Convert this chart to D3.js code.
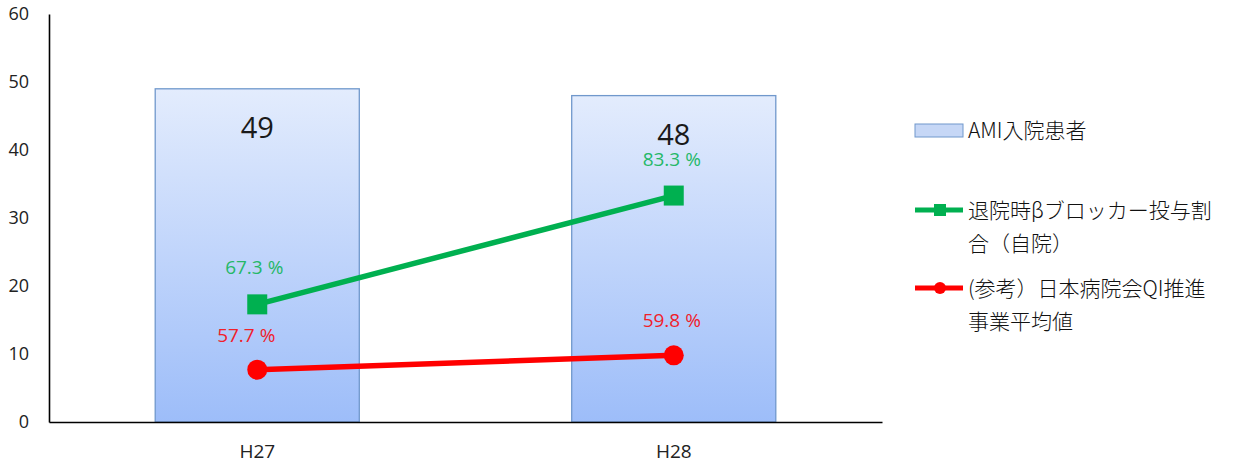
<!DOCTYPE html>
<html lang="ja">
<head>
<meta charset="UTF-8">
<title>AMI</title>
<script src="https://cdn.jsdelivr.net/npm/d3@7"></script>
<style>
  body { margin: 0; background: #fff; }
  text { font-family: "Open Sans", "Noto Sans CJK JP", sans-serif; }
  .jp { font-family: "Noto Sans CJK JP", sans-serif; }
</style>
</head>
<body>
<svg id="svg"></svg>
<script>
var years = ["H27", "H28"];
var patients = [49, 48];
var ownRate = [67.3, 83.3];
var qiRate = [57.7, 59.8];
var yTicks = [0, 10, 20, 30, 40, 50, 60];
var legendNames = [["AMI入院患者"], ["退院時βブロッカー投与割", "合（自院）"], ["(参考）日本病院会QI推進", "事業平均値"]];

var w = 1238, h = 463,
    plotL = 49, plotR = 882, plotT = 14, plotB = 422;
var svg = d3.select("#svg").attr("width", w).attr("height", h);

var x = d3.scaleBand().domain(years).range([plotL, plotR]).paddingInner(0.51).paddingOuter(0.255);
var y = d3.scaleLinear().domain([0, 60]).range([plotB, plotT]);
// rates are drawn against a hidden second axis
var y2 = d3.scaleLinear().domain([50, 110]).range([plotB, plotT]);

var defs = svg.append("defs");
var grad = defs.append("linearGradient").attr("id", "barg").attr("x1", 0).attr("y1", 0).attr("x2", 0).attr("y2", 1);
grad.append("stop").attr("offset", "0%").attr("stop-color", "#e3ecfd");
grad.append("stop").attr("offset", "100%").attr("stop-color", "#9dbdf9");

// bars
svg.selectAll(".bar").data(years).enter().append("rect")
  .attr("x", function(d) { return x(d); })
  .attr("width", x.bandwidth())
  .attr("y", function(d, i) { return y(patients[i]); })
  .attr("height", function(d, i) { return y(0) - y(patients[i]); })
  .attr("fill", "url(#barg)")
  .attr("stroke", "#7098cc")
  .attr("stroke-width", 1.3);

svg.selectAll(".blab").data(years).enter().append("text")
  .attr("x", function(d) { return x(d) + x.bandwidth() / 2; })
  .attr("y", function(d, i) { return y(patients[i]) + 49; })
  .attr("text-anchor", "middle")
  .attr("font-size", 29)
  .attr("fill", "#1a1a1a")
  .text(function(d, i) { return patients[i]; });

// axes
var ya = svg.append("g").attr("transform", "translate(" + plotL + ",0)")
  .call(d3.axisLeft(y).tickValues(yTicks).tickSize(0).tickPadding(20));
ya.select(".domain").attr("stroke", "#000").attr("stroke-width", 1.6);
ya.selectAll("text").attr("font-size", 18).attr("fill", "#222").style("font-family", "Open Sans");

var xa = svg.append("g").attr("transform", "translate(0," + plotB + ")")
  .call(d3.axisBottom(x).tickSize(0).tickPadding(23));
xa.select(".domain").attr("stroke", "#000").attr("stroke-width", 1.6);
xa.selectAll("text").attr("font-size", 19).attr("fill", "#222").style("font-family", "Open Sans");

function cx(d) { return x(d) + x.bandwidth() / 2; }

var lineOwn = d3.line().x(function(d) { return cx(d); }).y(function(d, i) { return y2(ownRate[i]); });
var lineQi = d3.line().x(function(d) { return cx(d); }).y(function(d, i) { return y2(qiRate[i]); });

svg.append("path").attr("d", lineOwn(years)).attr("fill", "none").attr("stroke", "#00b050").attr("stroke-width", 5.5);
svg.append("path").attr("d", lineQi(years)).attr("fill", "none").attr("stroke", "#ff0000").attr("stroke-width", 5.5);

svg.selectAll(".sq").data(years).enter().append("rect")
  .attr("x", function(d) { return cx(d) - 10; })
  .attr("y", function(d, i) { return y2(ownRate[i]) - 10; })
  .attr("width", 20).attr("height", 20)
  .attr("fill", "#00b050");
svg.selectAll(".dot").data(years).enter().append("circle")
  .attr("cx", function(d) { return cx(d); })
  .attr("cy", function(d, i) { return y2(qiRate[i]); })
  .attr("r", 10)
  .attr("fill", "#ff0000");

var ownDx = [-3, -2], qiDx = [-11, -2];
svg.selectAll(".glab").data(years).enter().append("text")
  .attr("x", function(d, i) { return cx(d) + ownDx[i]; })
  .attr("y", function(d, i) { return y2(ownRate[i]) - 30; })
  .attr("text-anchor", "middle")
  .attr("font-size", 19)
  .attr("fill", "#25b868")
  .text(function(d, i) { return ownRate[i].toFixed(1) + " %"; });
svg.selectAll(".rlab").data(years).enter().append("text")
  .attr("x", function(d, i) { return cx(d) + qiDx[i]; })
  .attr("y", function(d, i) { return y2(qiRate[i]) - 28; })
  .attr("text-anchor", "middle")
  .attr("font-size", 19)
  .attr("fill", "#f0202a")
  .text(function(d, i) { return qiRate[i].toFixed(1) + " %"; });

// legend
var lg = svg.append("g").attr("transform", "translate(915,0)");
var rowY = [130, 210, 288];
lg.append("rect").attr("x", 0).attr("y", rowY[0] - 6).attr("width", 48).attr("height", 13)
  .attr("fill", "#c6d7f6").attr("stroke", "#7098cc");
lg.append("line").attr("x1", 0).attr("x2", 48).attr("y1", rowY[1]).attr("y2", rowY[1])
  .attr("stroke", "#00b050").attr("stroke-width", 5);
lg.append("rect").attr("x", 19).attr("y", rowY[1] - 6).attr("width", 12).attr("height", 12).attr("fill", "#00b050");
lg.append("line").attr("x1", 0).attr("x2", 48).attr("y1", rowY[2]).attr("y2", rowY[2])
  .attr("stroke", "#ff0000").attr("stroke-width", 5);
lg.append("circle").attr("cx", 25).attr("cy", rowY[2]).attr("r", 6).attr("fill", "#ff0000");

legendNames.forEach(function(lines, i) {
  var t = lg.append("text").attr("class", "jp").attr("x", 53).attr("y", rowY[i] + 8)
    .attr("font-size", 21).attr("font-weight", 300).attr("fill", "#111");
  lines.forEach(function(s, j) {
    t.append("tspan").attr("x", 53).attr("dy", j === 0 ? 0 : 33).text(s);
  });
});
</script>
</body>
</html>
